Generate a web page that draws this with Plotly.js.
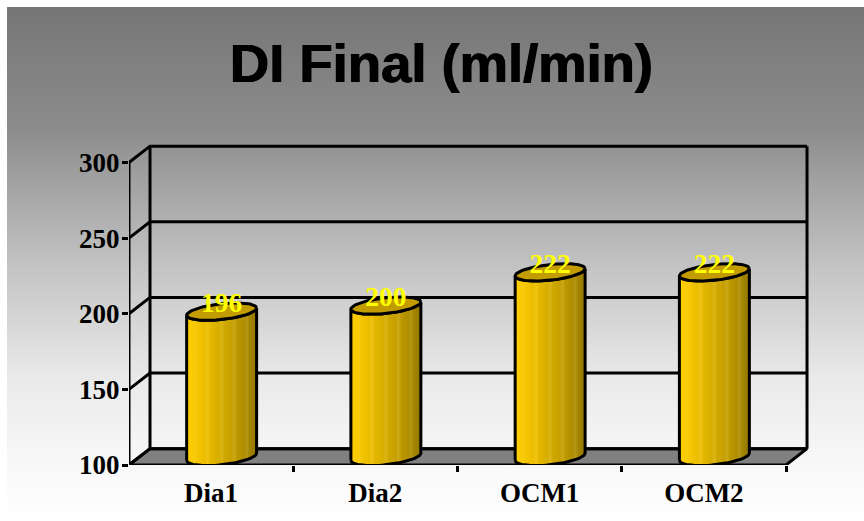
<!DOCTYPE html>
<html>
<head>
<meta charset="utf-8">
<script src="https://cdn.plot.ly/plotly-3.0.1.min.js"></script>
<style>
  html, body { margin: 0; padding: 0; background: #fff; width: 864px; height: 521px; overflow: hidden; }
  #backdrop { position: absolute; left: 7px; top: 7px; width: 857px; height: 514px;
    background: linear-gradient(to bottom, #757575 0%, #8d8d8d 24%, #c6c6c6 52%, #e9e9e9 72%, #f5f5f5 85%, #ffffff 100%); }
  #chart { position: absolute; left: 0; top: 0; width: 864px; height: 521px; }
</style>
</head>
<body>
<div id="backdrop"></div>
<div id="chart"></div>
<script>
// Dialysance values per dialyser
const categories = ['Dia1', 'Dia2', 'OCM1', 'OCM2'];
const values = [196, 200, 222, 222];
const yTicks = [100, 150, 200, 250, 300];
const titleText = 'DI Final (ml/min)';

// Oblique projection of the pseudo-3D box, in axis units
const depthX = 0.128;
const depthY = 10.8;
const radiusX = 0.213;
const radiusY = 5.2;
const shear = 2.4;
const yMin = yTicks[0];
const yMax = yTicks[yTicks.length - 1];
const xMin = -0.5;
const xMax = categories.length - 0.5;
const serif = '"Liberation Serif", "Times New Roman", serif';
const lineWidth = 3;

const frameLine = { color: '#000', width: lineWidth };

function lineTrace(x, y) {
  return { x, y, type: 'scatter', mode: 'lines', hoverinfo: 'skip', cliponaxis: false,
           line: frameLine };
}

// Half or full ellipse of a cylinder cross-section; angles in radians
function arc(cx, cy, from, to, steps) {
  const xs = [], ys = [];
  for (let i = 0; i <= steps; i++) {
    const t = from + (to - from) * i / steps;
    xs.push(cx + radiusX * Math.cos(t));
    ys.push(cy + radiusY * Math.sin(t) + shear * Math.cos(t));
  }
  return { xs, ys };
}

const traces = [];

// Floor of the box
traces.push({
  x: [xMin, xMin + depthX, xMax + depthX, xMax, xMin],
  y: [yMin, yMin + depthY, yMin + depthY, yMin, yMin],
  type: 'scatter', mode: 'lines', fill: 'toself', fillcolor: '#808080',
  line: frameLine, hoverinfo: 'skip', cliponaxis: false
});

// Back wall grid lines and the diagonal side-wall lines
yTicks.forEach(v => {
  traces.push(lineTrace([xMin, xMin + depthX, xMax + depthX], [v, v + depthY, v + depthY]));
});
traces.push(lineTrace([xMin + depthX, xMin + depthX], [yMin + depthY, yMax + depthY]));
traces.push(lineTrace([xMax + depthX, xMax + depthX], [yMin + depthY, yMax + depthY]));
traces.push(lineTrace([xMin, xMin], [yMin, yMax]));

// Cylinders: banded side surface, then the lid
const cylinderShade = [
  [0, '#ffcf00'], [0.08, '#fbcb00'], [0.12, '#f9ca10'], [0.16, '#f4c500'],
  [0.26, '#eabd00'], [0.3, '#efc416'], [0.34, '#e4b800'], [0.46, '#d6ad00'],
  [0.5, '#dcb518'], [0.54, '#cfa700'], [0.64, '#c6a000'], [0.68, '#cca81a'],
  [0.72, '#bc9800'], [0.82, '#b08e00'], [0.86, '#b59616'], [0.9, '#a48500'], [1, '#937600']
];
values.forEach((v, i) => {
  const cx = i + depthX / 2;
  const top = v + depthY / 2;
  const bottom = yMin + depthY / 2;
  const lower = arc(cx, bottom, Math.PI, 2 * Math.PI, 40);
  const upper = arc(cx, top, 0, -Math.PI, 40);
  traces.push({
    x: lower.xs.concat(upper.xs, [lower.xs[0]]),
    y: lower.ys.concat(upper.ys, [lower.ys[0]]),
    type: 'scatter', mode: 'lines', fill: 'toself',
    fillgradient: { type: 'horizontal', colorscale: cylinderShade },
    line: frameLine, hoverinfo: 'skip', cliponaxis: false
  });
  const lid = arc(cx, top, 0, 2 * Math.PI, 80);
  traces.push({
    x: lid.xs, y: lid.ys, type: 'scatter', mode: 'lines', fill: 'toself',
    fillcolor: '#c29c00', line: frameLine, hoverinfo: 'skip', cliponaxis: false
  });
});

// Value labels sitting on the lids
traces.push({
  x: values.map((v, i) => i + depthX / 2),
  y: values.map(v => v + 9.4),
  text: values.map(String),
  type: 'scatter', mode: 'text', textposition: 'middle center',
  textfont: { family: serif, size: 27.5, color: '#ffff00', weight: 700 },
  hoverinfo: 'skip', cliponaxis: false
});

const layout = {
  width: 864, height: 521,
  paper_bgcolor: 'rgba(0,0,0,0)', plot_bgcolor: 'rgba(0,0,0,0)',
  showlegend: false,
  margin: { l: 129, t: 140, r: 52, b: 56, pad: 0 },
  title: {
    text: titleText, x: 441.5 / 864, xanchor: 'center', y: 1 - 63 / 521, yanchor: 'middle',
    font: { family: '"Liberation Sans", Arial, sans-serif', size: 54.4, color: '#000', weight: 700,
            shadow: '0.6px 0 0 #000, -0.6px 0 0 #000' }
  },
  xaxis: {
    range: [xMin, xMin + 683 / 164.25], showgrid: false, zeroline: false, showline: false,
    tickmode: 'array', tickvals: categories.map((c, i) => i), ticktext: categories,
    ticks: '', ticklen: 0, ticklabelstandoff: 9,
    tickfont: { family: serif, size: 27, color: '#000', weight: 700 },
    minor: { tickmode: 'array', tickvals: categories.map((c, i) => i + 0.5),
             ticks: 'outside', ticklen: 6, tickwidth: lineWidth, tickcolor: '#000', showgrid: false },
    fixedrange: true
  },
  yaxis: {
    range: [yMin, yMin + 325 / 1.5125], showgrid: false, zeroline: false, showline: false,
    tickmode: 'array', tickvals: yTicks, ticktext: yTicks.map(String),
    ticks: 'outside', ticklen: 6, tickwidth: lineWidth, tickcolor: '#000', ticklabelstandoff: -3,
    tickfont: { family: serif, size: 27, color: '#000', weight: 700 },
    fixedrange: true
  }
};

Plotly.newPlot('chart', traces, layout, { displayModeBar: false, staticPlot: true });
</script>
</body>
</html>
